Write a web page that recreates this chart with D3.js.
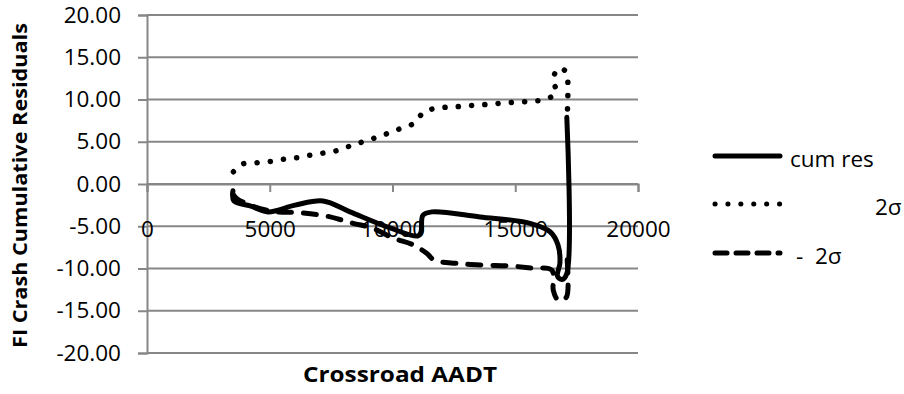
<!DOCTYPE html>
<html>
<head>
<meta charset="utf-8">
<script src="https://cdn.jsdelivr.net/npm/d3@7"></script>
<style>
  html, body { margin: 0; padding: 0; background: #fff; }
  svg { display: block; }
  text { font-family: "Open Sans", "Noto Sans", sans-serif; fill: #000; }
</style>
</head>
<body>
<svg id="chart" width="904" height="394"></svg>
<script>
// Crossroad AADT vs. cumulative residuals (CURE plot) with +/- 2 sigma limits
const xTickValues = [0, 5000, 10000, 15000, 20000];
const yTickValues = [20, 15, 10, 5, 0, -5, -10, -15, -20];

const seriesNames = ["cum res", "2σ", "-  2σ"];

const cumResX = [3500, 3540, 4200, 4930, 6030, 7170, 8270, 9900, 11040, 11160, 11240, 11610,
                 13560, 15600, 16420, 16740, 16820, 16720, 16900, 17100, 17100];
const cumResY = [-0.8, -2.0, -2.6, -3.3, -2.5, -2.0, -3.3, -5.2, -6.15, -5.7, -3.7, -3.3,
                 -3.9, -4.65, -5.65, -7.2, -9.35, -10.9, -11.3, -10.6, 7.9];

const plusX = [3520, 3880, 4430, 4970, 5510, 6070, 6610, 7160, 7730, 8270, 8790, 9330, 9870,
               10400, 10920, 11250, 11730, 12310, 12880, 13450, 14000, 14550, 15120, 15690,
               16210, 16660, 16550, 16760, 17100, 17140, 17140, 17120];
const plusY = [1.45, 2.35, 2.5, 2.65, 2.9, 3.1, 3.4, 3.65, 3.95, 4.5, 5.0, 5.5, 6.05,
               6.65, 7.25, 8.45, 8.95, 9.1, 9.2, 9.35, 9.45, 9.6, 9.7, 9.8,
               10.0, 10.8, 12.4, 13.7, 13.2, 11.6, 9.9, 8.4];

const minusX = [3500, 3650, 4200, 5150, 6230, 7320, 8390, 9210, 10020, 10840, 11390, 11700,
                12620, 13700, 14790, 15670, 16490, 16550, 16700, 16900, 17100, 17100];
const minusY = [-1.2, -1.7, -2.5, -3.25, -3.4, -3.8, -4.65, -5.25, -6.4, -7.2, -8.2, -9.0,
                -9.4, -9.6, -9.7, -9.95, -10.2, -12.6, -13.6, -13.8, -13.3, -8.4];

const svg = d3.select("#chart");

const x = d3.scaleLinear().domain([0, 20000]).range([147, 638]);
const y = d3.scaleLinear().domain([-20, 20]).range([353, 15]);

const gridColor = "#878787";

// horizontal gridlines
svg.append("g")
  .selectAll("line")
  .data(yTickValues)
  .join("line")
  .attr("x1", x(0)).attr("x2", x(20000))
  .attr("y1", d => y(d)).attr("y2", d => y(d))
  .attr("stroke", gridColor).attr("stroke-width", 2);

// y axis
const yAxis = svg.append("g")
  .attr("transform", `translate(${x(0)},0)`)
  .call(d3.axisLeft(y).tickValues(yTickValues).tickSize(9).tickSizeOuter(9)
        .tickPadding(17).tickFormat(d => d.toFixed(2)));
yAxis.selectAll("path, line").attr("stroke", gridColor).attr("stroke-width", 2);
yAxis.selectAll("text").attr("font-size", 22.5).attr("font-family", "Open Sans").attr("fill", "#000");

// x axis crossing at zero, labels sit below the plot band
const xAxis = svg.append("g")
  .attr("transform", `translate(0,${y(0)})`)
  .call(d3.axisBottom(x).tickValues(xTickValues).tickSize(8).tickSizeOuter(8)
        .tickPadding(29).tickFormat(d => String(d)));
xAxis.selectAll("path, line").attr("stroke", gridColor).attr("stroke-width", 2);
xAxis.selectAll("text").attr("font-size", 22.5).attr("font-family", "Open Sans").attr("fill", "#000");

// series
const toPts = (xs, ys) => xs.map((v, i) => [v, ys[i]]);
const line = d3.line().x(d => x(d[0])).y(d => y(d[1])).curve(d3.curveCatmullRom.alpha(0.5));

const series = [
  { name: seriesNames[0], pts: toPts(cumResX, cumResY), dash: null, width: 5 },
  { name: seriesNames[1], pts: toPts(plusX, plusY), dash: "0.1 13.2", width: 5.5 },
  { name: seriesNames[2], pts: toPts(minusX, minusY), dash: "13 12", width: 5 }
];

svg.append("g")
  .selectAll("path")
  .data(series)
  .join("path")
  .attr("d", d => line(d.pts))
  .attr("fill", "none")
  .attr("stroke", "#000")
  .attr("stroke-width", d => d.width)
  .attr("stroke-linecap", "round")
  .attr("stroke-linejoin", "round")
  .attr("stroke-dasharray", d => d.dash);

// axis titles
svg.append("text")
  .attr("x", 400).attr("y", 382)
  .attr("text-anchor", "middle")
  .attr("font-size", 21).attr("font-weight", "bold")
  .attr("textLength", 194).attr("lengthAdjust", "spacingAndGlyphs")
  .text("Crossroad AADT");

svg.append("text")
  .attr("transform", `translate(27,${(23 + 348) / 2}) rotate(-90)`)
  .attr("text-anchor", "middle")
  .attr("font-size", 20).attr("font-weight", "bold")
  .attr("textLength", 325).attr("lengthAdjust", "spacingAndGlyphs")
  .text("FI Crash Cumulative Residuals");

// legend
const legend = [
  { label: seriesNames[0], ly: 156, tx: 790, ty: 167, dash: null },
  { label: seriesNames[1], ly: 204, tx: 875, ty: 215, dash: "0.1 12.8" },
  { label: seriesNames[2], ly: 253, tx: 796, ty: 264, dash: "12 9" }
];
const lg = svg.append("g");
lg.selectAll("line")
  .data(legend)
  .join("line")
  .attr("x1", 715).attr("x2", 780)
  .attr("y1", d => d.ly).attr("y2", d => d.ly)
  .attr("stroke", "#000").attr("stroke-width", 5)
  .attr("stroke-linecap", "round")
  .attr("stroke-dasharray", d => d.dash);
lg.selectAll("text")
  .data(legend)
  .join("text")
  .attr("x", d => d.tx).attr("y", d => d.ty)
  .attr("font-size", 22.5)
  .style("white-space", "pre")
  .text(d => d.label);
</script>
</body>
</html>
